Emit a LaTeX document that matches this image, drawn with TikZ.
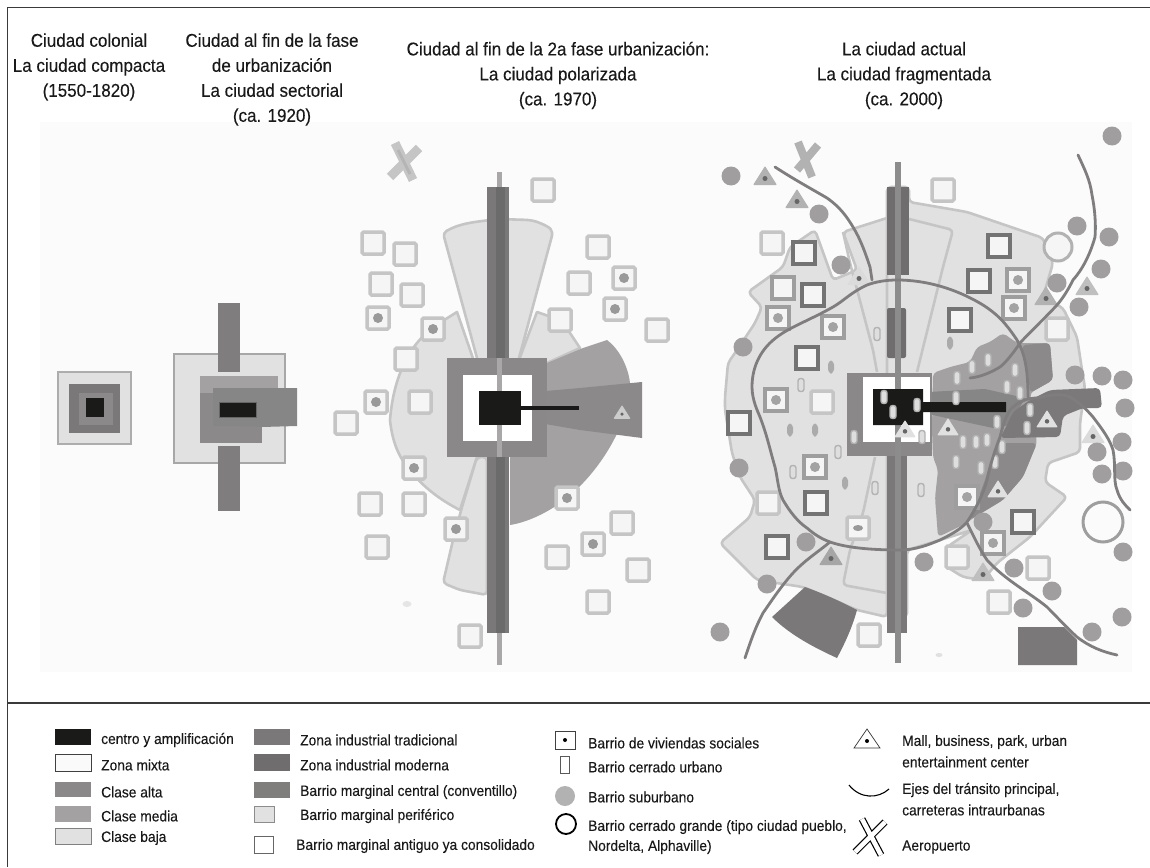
\documentclass[tikz,border=0pt]{standalone}
\usepackage{fontspec}
\setmainfont[FakeStretch=0.92,FakeBold=0.12]{Liberation Sans}
\usetikzlibrary{calc}
\definecolor{cblack}{HTML}{1A1A18}
\definecolor{calta}{HTML}{8A8888}
\definecolor{cmedia}{HTML}{A3A1A2}
\definecolor{cbaja}{HTML}{E2E1E2}
\definecolor{cbord}{HTML}{C6C5C5}
\definecolor{cind}{HTML}{7A7878}
\definecolor{cmod}{HTML}{6F6D6D}
\definecolor{cmodz}{HTML}{7B7979}
\definecolor{cmarg}{HTML}{8B8989}
\definecolor{csub}{HTML}{A09E9F}
\definecolor{cline}{HTML}{A9A7A7}
\definecolor{cpanel}{HTML}{FCFBFB}
\definecolor{croad}{HTML}{7F7D7D}
\definecolor{cframe}{HTML}{3A3A3A}
\tikzset{
  titletext/.style={font=\fontsize{18.5}{25}\selectfont,align=center,text=black!90,inner sep=0pt},
  legtext/.style={font=\fontsize{15}{20}\selectfont,align=left,anchor=west,text=black!90,inner sep=0pt},
  zonebaja/.style={fill=cbaja,draw=cbord,line width=2.6pt,line join=round,rounded corners=4pt},
  sectorline/.style={draw=cbord,line width=2.6pt,line join=round,rounded corners=4pt},
  softzone/.style={rounded corners=4pt},
  sqa/.style={fill=white!96!black,draw=cbord,line width=3.5pt,rounded corners=1.5pt},
  sqb/.style={fill=white!96!black,draw=black!38,line width=3.2pt},
  sqc/.style={fill=white!96!black,draw=black!55,line width=3.2pt},
  ringroad/.style={draw=croad,line width=2.8pt,line cap=round,line join=round},
  subur/.style={fill=csub,draw=none},
  oblongl/.style={fill=black!13,draw=black!30,line width=1.4pt,rounded corners=2.5pt},
  oblongd/.style={fill=black!33,draw=none,rounded corners=4pt},
}
\newcommand{\squaresA}[2][sqa]{\foreach \x/\y in {#2} \draw[#1] (\x-11,\y-11) rectangle (\x+11,\y+11);}
\newcommand{\dotsA}[2][black!40]{\foreach \x/\y in {#2} \fill[#1] (\x,\y) circle (5);}
\newcommand{\oblongsA}[2][oblongl]{\foreach \x/\y in {#2} \draw[#1] (\x-3,\y-6.5) rectangle (\x+3,\y+6.5);}
\newcommand{\malltri}[4]{\fill[#4,line join=round,draw=#4,line width=1pt] (#1,#2-#3) -- (#1+#3*1.1,#2+#3*.75) -- (#1-#3*1.1,#2+#3*.75) -- cycle; \fill[black!60] (#1,#2+#3*.15) circle (#3*.25);}
\begin{document}
\begin{tikzpicture}[x=1pt,y=-1pt]
\useasboundingbox (0,0) rectangle (1150,867);
\fill[white] (0,0) rectangle (1150,867);
\fill[cpanel] (40,122) rectangle (1132,672);
\draw[cframe,line width=1.4pt] (1150,7.5) -- (7.5,7.5) -- (7.5,867);
\draw[cframe,line width=1.4pt] (7.5,703) -- (1150,703);

% titles
\node[titletext] (t1) at (89,67) {Ciudad colonial\\La ciudad compacta\\(1550-1820)};
\node[titletext] (t2) at (272,79.5) {Ciudad al fin de la fase\\de urbanización\\La ciudad sectorial\\(ca. 1920)};
\node[titletext] (t3) at (558,75.5) {Ciudad al fin de la 2a fase urbanización:\\La ciudad polarizada\\(ca. 1970)};
\node[titletext] (t4) at (904,75.5) {La ciudad actual\\La ciudad fragmentada\\(ca. 2000)};

% city 1
\draw[fill=cbaja,draw=black!32,line width=2.5pt] (58,372) rectangle (131,444);
\fill[cind] (69,384) rectangle (120,433);
\fill[cmarg] (79,393) rectangle (113,425);
\fill[cblack] (86,398) rectangle (104,417);

% city 2
\draw[fill=cbaja,draw=cbord!85!black,line width=2.5pt] (174,354) rectangle (285,463);
\fill[croad] (218,303) rectangle (240,372);
\fill[croad] (218,446) rectangle (240,511);
\fill[cmedia] (200,376) rectangle (278,395);
\fill[cmarg] (200,393) rectangle (262,443);
\fill[cind!90!white] (213,388) -- (297,388) -- (297,426) -- (262,427) -- (240,426) -- (213,426) -- cycle;
\fill[cblack,draw=black!60,line width=1pt] (219,402) rectangle (256,417);

% city 3
\draw[zonebaja] (477,358) -- (443,233) .. controls (460,223) and (475,222) .. (498,219) -- (530,220) .. controls (538,222) and (548,226) .. (553,232) -- (519,358);
\draw[fill=cbaja,draw=cbord,line width=2.6pt,line join=round] (477,370) -- (457,312) -- (433,327) .. controls (420,338) and (412,348) .. (406,360) .. controls (398,375) and (392,395) .. (390,420) .. controls (392,440) and (398,455) .. (406,465) .. controls (420,485) and (440,500) .. (460,510) -- (477,457) -- cycle;
\draw[fill=cbaja,draw=cbord,line width=2.6pt,line join=round] (537,312) -- (519,360) -- (547,363) -- (580,348) -- (570,333) -- (560,320) -- cycle;
\draw[zonebaja] (477,457) -- (462,507) -- (453,540) -- (443,583) -- (460,590) -- (487,595) -- (487,457) -- cycle;
\fill[cmedia] (510,525) .. controls (530,522) and (560,508) .. (583,483) .. controls (605,460) and (630,420) .. (630,383) .. controls (628,365) and (618,348) .. (607,340) -- (583,348) -- (547,363) -- (533,385) -- (535,410) -- (510,455) -- cycle;
\fill[cmarg] (523,393) -- (580,388) -- (642,382) -- (642,438) -- (580,430) -- (522,420) -- cycle;
\fill[cline] (496.5,172) rectangle (501.5,665);
\fill[cind] (487,187) rectangle (509,358);
\fill[cind] (487,455) rectangle (509,633);
\fill[black!58] (496,187) rectangle (505,358);
\fill[black!58] (496,455) rectangle (505,633);
\fill[calta] (447,358) -- (547,358) -- (547,457) -- (447,457) -- cycle;
\fill[white] (463,375) rectangle (532,441);
\fill[cline] (496.5,358) rectangle (501.5,457);
\fill[cblack] (479,391) rectangle (521,425);
\draw[black!90,line width=3.5pt] (521,408) -- (579,408);
\malltri{622}{413}{7}{black!20}
% city 3 squares
\squaresA{373/243,405/254,381/284,598/247,579/283,560/320,543/190,657/330,346/423,370/504,414/504,377/547,622/523,638/570,598/602,470/636,420/402,406/359,557/557,412/295}
\squaresA{378/318,433/329,624/278,615/309,376/402,414/468,456/529,567/498,593/544}
\dotsA{378/318,433/329,624/278,615/309,376/402,414/468,456/529,567/498,593/544}
\fill[black!10] (407,604) ellipse (4.5 and 3);
\draw[cbord,line width=9pt] (395,143) -- (413,180) (419,148) -- (390,177);
\draw[black!29,line width=3pt] (398,150) -- (410,174);

% city 4 main zone
\draw[zonebaja] (887,218) -- (843,232) -- (857,270) -- (833,280) -- (815,230) -- (790,247) -- (783,267) -- (748,292) -- (762,307) -- (755,323) -- (737,350) -- (728,363) -- (725,397) -- (725,410) -- (732,453) -- (740,477) -- (755,500) -- (750,517) -- (720,543) -- (757,580) -- (803,587) -- (857,610) -- (887,617) -- (887,187) -- (909,187) -- (909,202) -- (967,212) -- (1043,238) -- (1053,263) -- (1043,297) -- (1063,308) -- (1077,337) -- (1082,370) -- (1085,388) -- (1080,423) -- (1080,452) -- (1048,463) -- (1045,482) -- (1067,497) -- (1030,537) -- (997,563) -- (983,580) -- (963,577) -- (947,567) -- (947,547) -- (972,530) -- (940,540) -- (907,550) -- (907,617) -- (887,617);
\draw[sectorline] (843,232) -- (850,263) -- (873,350) -- (877,372);
\draw[sectorline] (909,219) -- (953,230) -- (943,267) -- (917,372);
\draw[sectorline] (875,457) -- (863,513) -- (850,550) -- (843,585) -- (887,593);
% media and darker zones
\fill[cmedia,softzone] (933,373) -- (950,367) -- (970,362) -- (977,347) -- (990,342) -- (1003,333) -- (1017,343) -- (1050,343) -- (1053,380) -- (1030,393) -- (1037,443) -- (1023,477) -- (1003,500) -- (973,518) -- (967,523) -- (938,537) -- (935,498) -- (938,470) -- (933,457) -- (932,430) -- cycle;
\fill[cmarg,softzone] (1022,345) -- (1050,343) -- (1053,380) -- (1030,393) -- (1028,372) -- cycle;
\fill[cmarg,softzone] (997,443) -- (1037,443) -- (1023,477) -- (1003,500) -- (970,520) -- (985,480) -- cycle;
\fill[cind!90!white] (928,392) -- (985,389) -- (1025,398) -- (1010,425) -- (993,428) -- (928,414) -- cycle;
\fill[cmodz,softzone] (1000,438) -- (1007,425) -- (1013,412) -- (1030,400) -- (1050,390) -- (1100,388) -- (1102,408) -- (1083,408) -- (1063,416) -- (1060,437) -- cycle;
% center and axis
\fill[cmod] (887,187) rectangle (909,275);
\fill[cmod,rounded corners=2pt] (887,308) rectangle (906,358);
\fill[cind] (887,455) rectangle (907,633);
\fill[calta] (847,373) rectangle (932,456);
\fill[white] (863,377) rectangle (930,442);
\fill[black!45] (894.5,162) rectangle (900.5,663);
\fill[cblack] (873,389) -- (923,389) -- (923,402) -- (1006,402) -- (1006,412) -- (923,412) -- (923,425) -- (873,425) -- cycle;
% dark blocks
\fill[cind] (805,587) .. controls (822,593) and (840,601) .. (857,610) .. controls (852,628) and (845,643) .. (837,658) .. controls (815,648) and (790,635) .. (772,617) -- cycle;
\fill[cind] (1018,627) -- (1064,627) -- (1077,640) -- (1077,665) -- (1018,665) -- cycle;
% oblongs
\oblongsA{877/334,801/385,972/367,988/360,1015/370,957/378,1007/387,1020/393,956/398,838/452,793/472,875/488,921/490,854/437,922/437,963/442,976/442,987/440,1002/447,956/462,981/468,995/462,1027/428,1030/410,997/422,884/397,893/412,917/405}
\oblongsA[oblongd]{950/343,831/367,790/430,815/430,845/483}
% squares
\squaresA{772/243,943/190,822/402,768/503,858/528,869/635,957/557,1038/568,999/602,1057/329}
\squaresA[sqb]{783/288,778/318,833/327,776/400,1018/280,1014/308,815/467,993/543,967/497}
\squaresA[sqc]{804/253,813/295,807/358,999/246,979/281,960/320,739/423,816/503,777/547,1023/522}
\dotsA[black!36]{778/318,833/327,776/400,1018/280,1014/308,815/467,993/543,967/497}
\fill[black!40] (858,528) ellipse (5 and 3);
% triangles
\malltri{765}{177}{10}{black!30}
\malltri{797}{200}{10}{black!30}
\malltri{859}{277}{10}{black!14}
\malltri{1046}{297}{10}{black!30}
\malltri{1087}{287}{10}{black!25}
\malltri{831}{557}{10}{black!35}
\malltri{983}{573}{10}{black!25}
\malltri{998}{490}{9}{black!12}
\malltri{1047}{420}{9}{black!12}
\malltri{948}{428}{9}{black!12}
\malltri{905}{430}{9}{black!12}
\malltri{1093}{435}{10}{black!14}
% suburbs
\foreach \x/\y in {731/176,819/214,841/265,743/347,1112/136,1077/226,1109/237,1101/269,1057/283,1079/307,1075/375,1102/376,1123/380,1125/408,1122/442,1097/452,1102/474,1123/471,739/468,806/542,767/584,720/632,924/562,983/522,1014/568,1052/591,1023/608,1123/552,1122/617,1092/632}
  \fill[subur] (\x,\y) circle (9.5);
\fill[black!12] (939,655) ellipse (3.5 and 2);
% big closed neighbourhoods
\draw[draw=black!38,fill=cpanel,line width=3pt] (1103,522) circle (20);
\draw[draw=black!30,fill=white!96!black,line width=3pt] (1058,247) circle (14);
% airport
\draw[black!30,line width=8pt] (798,142) -- (812,177) (818,145) -- (797,170);
% roads
\draw[ringroad] (1028,397) .. controls (1028,375) and (1026,355) .. (1017,340) .. controls (1005,322) and (997,314) .. (983,305) .. controls (955,288) and (925,280) .. (897,280) .. controls (885,280) and (875,282) .. (867,285) .. controls (850,293) and (845,300) .. (833,307) .. controls (810,320) and (790,327) .. (777,337) .. controls (762,348) and (752,365) .. (752,387) .. controls (752,400) and (758,412) .. (760,417) .. controls (767,435) and (770,450) .. (775,467) .. controls (778,480) and (778,490) .. (783,500) .. controls (790,512) and (798,522) .. (807,528) .. controls (815,535) and (822,539) .. (830,542) .. controls (850,549) and (880,550) .. (900,550) .. controls (915,550) and (928,545) .. (940,540) .. controls (950,535) and (960,530) .. (967,522) .. controls (975,510) and (983,495) .. (987,480) .. controls (990,465) and (995,450) .. (1000,437) .. controls (1003,425) and (1005,418) .. (1010,410) .. controls (1017,402) and (1027,398) .. (1037,398) .. controls (1050,395) and (1062,393) .. (1070,397) .. controls (1080,403) and (1087,410) .. (1093,417) .. controls (1103,430) and (1110,440) .. (1113,450) .. controls (1116,465) and (1113,480) .. (1117,490) .. controls (1120,500) and (1125,505) .. (1130,510);
\draw[ringroad] (775,167) .. controls (795,180) and (810,188) .. (827,198) .. controls (840,207) and (847,217) .. (853,227) .. controls (861,240) and (866,255) .. (870,267) -- (872,280);
\draw[ringroad] (1078,155) .. controls (1085,170) and (1090,180) .. (1092,195) .. controls (1095,210) and (1096,225) .. (1095,237) .. controls (1090,255) and (1082,270) .. (1073,280) .. controls (1068,290) and (1063,298) .. (1057,305) .. controls (1045,318) and (1030,332) .. (1020,343) .. controls (1012,355) and (1005,363) .. (1000,367) .. controls (990,373) and (980,377) .. (970,378);
\draw[ringroad] (830,542) .. controls (818,552) and (805,560) .. (793,573) .. controls (782,585) and (772,600) .. (763,613) .. controls (755,628) and (750,643) .. (745,658);
\draw[ringroad] (967,523) .. controls (973,535) and (980,550) .. (987,560) .. controls (1005,580) and (1030,593) .. (1047,607) .. controls (1057,617) and (1067,628) .. (1077,637) .. controls (1090,647) and (1103,652) .. (1117,655);

% legend col 1
\fill[cblack] (55,729) rectangle (91,745);
\draw[fill=white!98!black,draw=black!75,line width=.9pt] (55,754) rectangle (91,771);
\fill[calta] (55,782) rectangle (91,797);
\fill[cmedia] (55,806) rectangle (91,822);
\draw[fill=cbaja,draw=black!50,line width=.9pt] (55,828) rectangle (91,844);
\node[legtext] (l1) at (101,740) {centro y amplificación};
\node[legtext] (l2) at (101,765) {Zona mixta};
\node[legtext] (l3) at (101,792) {Clase alta};
\node[legtext] (l4) at (101,816) {Clase media};
\node[legtext] (l5) at (101,838) {Clase baja};
% legend col 2
\fill[cind] (254,729) rectangle (290,745);
\fill[cmod] (254,754) rectangle (290,771);
\fill[cmarg!110!white] (254,782) rectangle (290,798);
\draw[fill=cbaja,draw=black!45,line width=.7pt] (254,806) rectangle (274,822);
\draw[fill=white,draw=black!60,line width=.7pt] (254,836) rectangle (273,853);
\node[legtext] (l6) at (300,740) {Zona industrial tradicional};
\node[legtext] (l7) at (300,765) {Zona industrial moderna};
\node[legtext] (l8) at (300,792) {Barrio marginal central (conventillo)};
\node[legtext] (l9) at (300,816) {Barrio marginal periférico};
\node[legtext] (l10) at (296,846) {Barrio marginal antiguo ya consolidado};
% legend col 3
\draw[draw=black!75,line width=.8pt,fill=white] (555,731) rectangle (575,749);
\fill[black] (565,740) circle (2);
\draw[draw=black!65,line width=.8pt,fill=white] (560,756) rectangle (569,773);
\fill[black!30] (565,796) circle (10);
\draw[black,line width=1.8pt] (566,824) circle (10);
\node[legtext] (l11) at (588,743) {Barrio de viviendas sociales};
\node[legtext] (l12) at (588,767) {Barrio cerrado urbano};
\node[legtext] (l13) at (588,797) {Barrio suburbano};
\node[legtext] (l14) at (588,827) {Barrio cerrado grande (tipo ciudad pueblo,};
\node[legtext] (l15) at (588,847) {Nordelta, Alphaville)};
% legend col 4
\draw[draw=black!80,line width=.7pt,line join=miter] (867,729) -- (880,748) -- (854,748) -- cycle;
\fill[black] (867,741) circle (2);
\draw[black,line width=1.1pt] (849,785) .. controls (860,799) and (878,799) .. (889,789);
\draw[black,line width=7pt] (862,819) -- (881,855) (885,822) -- (855,852);
\draw[white,line width=4.6pt] (862,819) -- (881,855) (885,822) -- (855,852);
\node[legtext] (l16) at (902,742) {Mall, business, park, urban};
\node[legtext] (l17) at (902,762) {entertainment center};
\node[legtext] (l18) at (902,790) {Ejes del tránsito principal,};
\node[legtext] (l19) at (902,810) {carreteras intraurbanas};
\node[legtext] (l20) at (902,847) {Aeropuerto};
\end{tikzpicture}
\end{document}
